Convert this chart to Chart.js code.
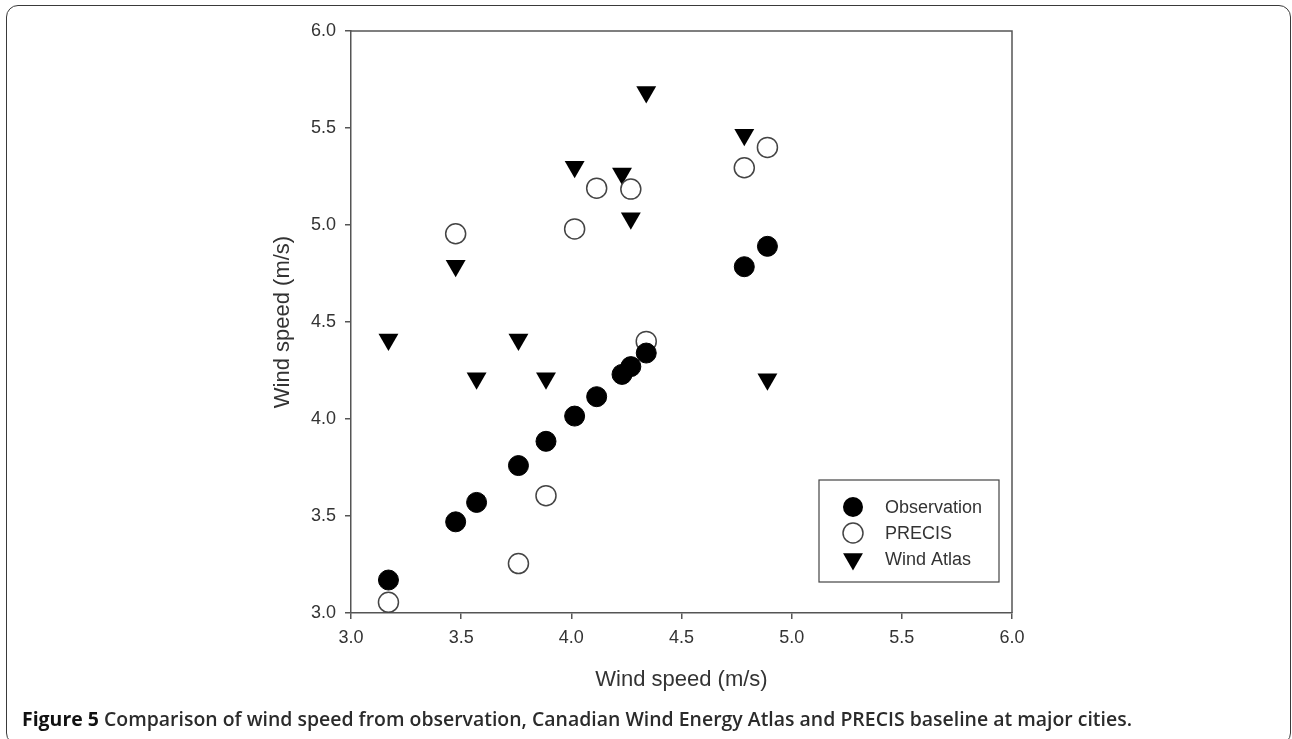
<!DOCTYPE html>
<html>
<head>
<meta charset="utf-8">
<title>Figure 5</title>
<script src="https://cdn.jsdelivr.net/npm/chart.js@4.4.1/dist/chart.umd.min.js"></script>
<style>
html, body { margin: 0; padding: 0; background: #fff; overflow: hidden; }
#wrap { position: relative; width: 1292px; height: 739px; }
#frame {
    position: absolute; left: 6px; top: 5px; width: 1285px; height: 740px;
    box-sizing: border-box; border: 1.5px solid #3a3a3a; border-radius: 12px;
}
#chart { position: absolute; left: 0; top: 0; }
#caption {
    position: absolute; left: 22px; top: 710px; white-space: nowrap;
    font-family: "Open Sans", sans-serif; font-size: 19px; line-height: 19px;
    font-weight: 600; color: #2b2b2b; transform-origin: 0 0;
}
#caption b { font-weight: 700; color: #111; }
</style>
</head>
<body>
<div id="wrap">
    <div id="frame"></div>
    <canvas id="chart" width="1292" height="739"></canvas>
    <div id="caption"><b>Figure 5</b> Comparison of wind speed from observation, Canadian Wind Energy Atlas and PRECIS baseline at major cities.</div>
</div>
<script>
"use strict";

// values (m/s)
var obsX = [3.17, 3.475, 3.57, 3.76, 3.885, 4.015, 4.115, 4.23, 4.27, 4.34, 4.785, 4.89];
var obsY = [3.17, 3.47, 3.57, 3.76, 3.885, 4.015, 4.115, 4.23, 4.27, 4.34, 4.785, 4.89];

var precisX = [3.17, 3.475, 3.76, 3.885, 4.015, 4.115, 4.27, 4.34, 4.785, 4.89];
var precisY = [3.055, 4.955, 3.255, 3.605, 4.98, 5.19, 5.185, 4.40, 5.295, 5.40];

var atlasX = [3.17, 3.475, 3.57, 3.76, 3.885, 4.015, 4.23, 4.27, 4.34, 4.785, 4.89];
var atlasY = [4.41, 4.79, 4.21, 4.41, 4.21, 5.30, 5.265, 5.035, 5.685, 5.465, 4.205];

var seriesNames = ["Observation", "PRECIS", "Wind Atlas"];
var axisMin = 3.0;
var axisMax = 6.0;
var axisStep = 0.5;

function toPoints(xs, ys) {
    var pts = [];
    for (var i = 0; i < xs.length; i++) {
        pts.push({ x: xs[i], y: ys[i] });
    }
    return pts;
}

var FONT = "'Liberation Sans', Arial, sans-serif";
var AXIS_COLOR = "#555";

// box on top and right of the plot, and the legend inside it
var boxAndLegend = {
    id: "boxAndLegend",
    afterDraw: function (chart) {
        var ctx = chart.ctx;
        var a = chart.chartArea;
        ctx.save();
        ctx.strokeStyle = AXIS_COLOR;
        ctx.lineWidth = 1.5;
        ctx.beginPath();
        ctx.moveTo(a.left, a.top);
        ctx.lineTo(a.right, a.top);
        ctx.lineTo(a.right, a.bottom);
        ctx.stroke();

        // legend
        ctx.lineWidth = 1.2;
        ctx.strokeStyle = "#444";
        ctx.strokeRect(819, 480, 180, 102);
        ctx.font = "18px " + FONT;
        ctx.fillStyle = "#333";
        ctx.textBaseline = "middle";
        var rows = [507, 533, 559];
        for (var i = 0; i < seriesNames.length; i++) {
            var mx = 853, my = rows[i];
            ctx.beginPath();
            if (i === 2) {
                var r = 11.5;
                ctx.moveTo(mx - r * 0.866, my - r / 2);
                ctx.lineTo(mx + r * 0.866, my - r / 2);
                ctx.lineTo(mx, my + r);
                ctx.closePath();
                ctx.fillStyle = "#000";
                ctx.fill();
            } else {
                ctx.arc(mx, my, 10, 0, Math.PI * 2);
                if (i === 0) {
                    ctx.fillStyle = "#000";
                    ctx.fill();
                } else {
                    ctx.fillStyle = "#fff";
                    ctx.fill();
                    ctx.strokeStyle = "#444";
                    ctx.lineWidth = 1.5;
                    ctx.stroke();
                }
            }
            ctx.fillStyle = "#333";
            ctx.fillText(seriesNames[i], 885, my + 1);
        }
        ctx.restore();
    }
};

function tickFmt(v) { return Number(v).toFixed(1); }

var ctx = document.getElementById("chart").getContext("2d");
var chart = new Chart(ctx, {
    type: "scatter",
    data: {
        datasets: [{
            label: seriesNames[0],
            data: toPoints(obsX, obsY),
            pointStyle: "circle",
            pointRadius: 10,
            pointBackgroundColor: "#000",
            pointBorderColor: "#000",
            pointBorderWidth: 1
        }, {
            label: seriesNames[1],
            data: toPoints(precisX, precisY),
            pointStyle: "circle",
            pointRadius: 10,
            pointBackgroundColor: "#fff",
            pointBorderColor: "#444",
            pointBorderWidth: 1.5
        }, {
            label: seriesNames[2],
            data: toPoints(atlasX, atlasY),
            pointStyle: "triangle",
            pointRotation: 180,
            pointRadius: 11.5,
            pointBackgroundColor: "#000",
            pointBorderColor: "#000",
            pointBorderWidth: 0
        }]
    },
    options: {
        responsive: false,
        animation: false,
        events: [],
        layout: { padding: { left: 270, top: 31, right: 280, bottom: 46 } },
        plugins: {
            legend: { display: false },
            tooltip: { enabled: false }
        },
        scales: {
            x: {
                type: "linear",
                min: axisMin, max: axisMax,
                ticks: { stepSize: axisStep, callback: tickFmt, color: "#333", padding: 8, font: { family: FONT, size: 18 } },
                grid: { drawOnChartArea: false, drawTicks: true, tickLength: 6, color: AXIS_COLOR, lineWidth: 1.5 },
                border: { display: true, color: AXIS_COLOR, width: 1.5 },
                title: { display: true, text: "Wind speed (m/s)", color: "#333", font: { family: FONT, size: 22 }, padding: 0 },
                afterFit: function (s) { s.height = 80; }
            },
            y: {
                type: "linear",
                min: axisMin, max: axisMax,
                ticks: { stepSize: axisStep, callback: tickFmt, color: "#333", padding: 9, font: { family: FONT, size: 18 } },
                grid: { drawOnChartArea: false, drawTicks: true, tickLength: 6, color: AXIS_COLOR, lineWidth: 1.5 },
                border: { display: true, color: AXIS_COLOR, width: 1.5 },
                title: { display: true, text: "Wind speed (m/s)", color: "#333", font: { family: FONT, size: 22 }, padding: 0 },
                afterFit: function (s) { s.width = 81; }
            }
        }
    },
    plugins: [boxAndLegend]
});

// stretch the caption to the width it has in the figure
function fitCaption() {
    var cap = document.getElementById("caption");
    cap.style.transform = "none";
    var w = cap.getBoundingClientRect().width;
    cap.style.transform = "scaleX(" + (1110 / w) + ")";
}
fitCaption();
if (document.fonts && document.fonts.ready) {
    document.fonts.ready.then(fitCaption);
}
</script>
</body>
</html>
